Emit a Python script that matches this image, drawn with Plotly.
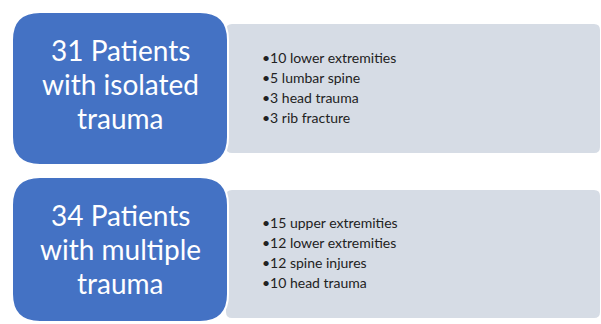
import plotly.graph_objects as go

# Patient groups and injury breakdown
group_counts = [31, 34]
group_kinds = ["isolated", "multiple"]
injury_counts = [[10, 5, 3, 3], [15, 12, 12, 10]]
injury_labels = [
    ["lower extremities", "lumbar spine", "head trauma", "rib fracture"],
    ["upper extremities", "lower extremities", "spine injures", "head trauma"],
]

W, H = 601, 324
BLUE = "#4472C4"
GREY = "#D6DCE5"


def rounded_rect(x0, y0, x1, y1, r):
    return (f"M {x0+r},{y0} L {x1-r},{y0} Q {x1},{y0} {x1},{y0+r} "
            f"L {x1},{y1-r} Q {x1},{y1} {x1-r},{y1} L {x0+r},{y1} "
            f"Q {x0},{y1} {x0},{y1-r} L {x0},{y0+r} Q {x0},{y0} {x0+r},{y0} Z")


fig = go.Figure()
shapes, annotations = [], []

rows = [
    dict(blue=(12, 12, 228, 165), grey=(226, 24, 600, 153), title_y=[50, 84, 118], item_y0=57),
    dict(blue=(12, 177, 228, 322), grey=(226, 190, 600, 318), title_y=[215, 249, 283], item_y0=222),
]

for i, row in enumerate(rows):
    gx0, gy0, gx1, gy1 = row["grey"]
    shapes.append(dict(type="path", path=rounded_rect(gx0, gy0, gx1, gy1, 6),
                       fillcolor=GREY, line=dict(width=0), layer="below"))
    bx0, by0, bx1, by1 = row["blue"]
    shapes.append(dict(type="path", path=rounded_rect(bx0, by0, bx1, by1, 28),
                       fillcolor=BLUE, line=dict(color="white", width=2)))

    title_lines = [f"{group_counts[i]} Patients", f"with {group_kinds[i]}", "trauma"]
    for line, ty in zip(title_lines, row["title_y"]):
        annotations.append(dict(x=(bx0 + bx1) / 2, y=ty, text=line, showarrow=False,
                                xanchor="center", yanchor="middle",
                                font=dict(family="Lato", size=28, color="white")))

    for k, (n, lab) in enumerate(zip(injury_counts[i], injury_labels[i])):
        annotations.append(dict(x=260, y=row["item_y0"] + 20.3 * k,
                                text=f"\u2022{n} {lab}", showarrow=False,
                                xanchor="left", yanchor="middle",
                                font=dict(family="Lato", size=14, color="#222222")))

fig.update_layout(
    width=W, height=H, margin=dict(l=0, r=0, t=0, b=0),
    paper_bgcolor="white", plot_bgcolor="white",
    xaxis=dict(range=[0, W], visible=False, fixedrange=True),
    yaxis=dict(range=[H, 0], visible=False, fixedrange=True),
    shapes=shapes, annotations=annotations, showlegend=False,
)

fig.write_html("out.html", config=dict(displayModeBar=False))
